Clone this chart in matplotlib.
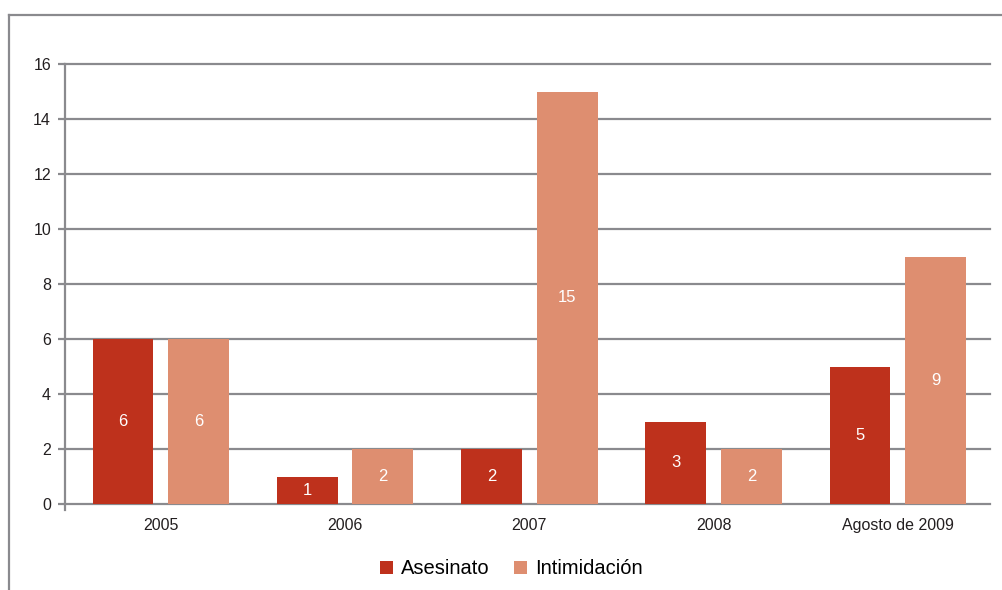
import matplotlib.pyplot as plt
import numpy as np
from matplotlib.lines import Line2D

plt.rcParams['font.family'] = ['Liberation Sans', 'DejaVu Sans']

categories = ["2005", "2006", "2007", "2008", "Agosto de 2009"]
asesinato = [6, 1, 2, 3, 5]
intimidacion = [6, 2, 15, 2, 9]
y_ticks = [0, 2, 4, 6, 8, 10, 12, 14, 16]

red = "#BE311C"
salmon = "#DE8E70"
grid_gray = "#8A8A8E"

fig = plt.figure(figsize=(10.03, 5.90), dpi=100)
ax = fig.add_axes([65 / 1003, 86 / 590, 925 / 1003, 440 / 590])

x = np.arange(len(categories))
width = 0.33
offset = 0.205
b1 = ax.bar(x - offset, asesinato, width, color=red, label="Asesinato", zorder=3)
b2 = ax.bar(x + offset, intimidacion, width, color=salmon, label="Intimidación", zorder=3)

for bars in (b1, b2):
    for rect in bars:
        h = rect.get_height()
        ax.text(rect.get_x() + rect.get_width() / 2, h / 2, str(int(h)),
                ha="center", va="center", color="white", fontsize=12, zorder=4)

ax.set_xlim(-0.52, len(categories) - 0.5)
ax.set_ylim(0, 16)
ax.set_yticks(y_ticks)
ax.set_xticks(x)
ax.set_xticklabels(categories, fontsize=11.5, color="#231F20")
ax.tick_params(axis="y", labelsize=11.5, labelcolor="#231F20", length=5,
               width=1.6, color=grid_gray, pad=5)
ax.tick_params(axis="x", length=0, pad=10)

ax.grid(axis="y", color=grid_gray, linewidth=1.6, zorder=1)
for gl in ax.get_ygridlines():
    gl.set_clip_on(False)
ax.set_axisbelow(True)
for side in ("top", "right", "bottom"):
    ax.spines[side].set_visible(False)
ax.spines["left"].set_color(grid_gray)
ax.spines["left"].set_linewidth(1.6)
ax.spines["left"].set_zorder(5)
ax.spines["left"].set_bounds(-0.2, 16)

fig.legend(loc="center", bbox_to_anchor=(0.51, 21 / 590), ncol=2, frameon=False,
           fontsize=14.5, handlelength=0.65, handleheight=0.65,
           handletextpad=0.4, columnspacing=1.2)

# outer frame of the figure panel
fig.add_artist(Line2D([9 / 1003, 1.0], [1 - 15 / 590, 1 - 15 / 590],
                      transform=fig.transFigure, color=grid_gray, linewidth=1.6))
fig.add_artist(Line2D([9 / 1003, 9 / 1003], [0.0, 1 - 15 / 590],
                      transform=fig.transFigure, color=grid_gray, linewidth=1.6))

fig.savefig("out.png", dpi=100)
